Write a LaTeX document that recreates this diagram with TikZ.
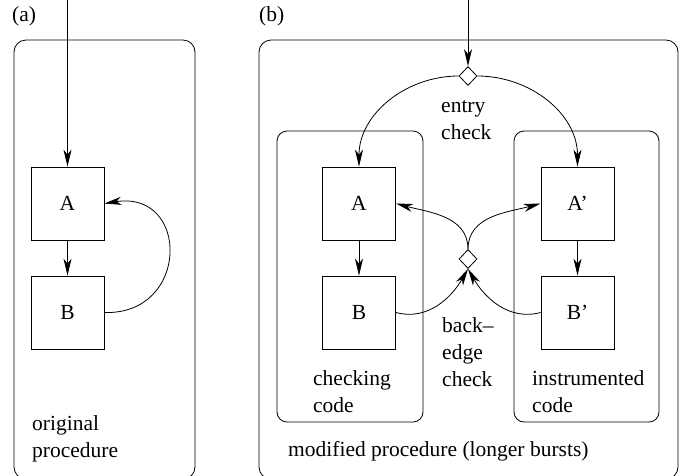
\documentclass[tikz,border=0pt]{standalone}
\usepackage{fontspec}
\setmainfont{Liberation Serif}
\usetikzlibrary{arrows.meta,shapes.geometric}
\begin{document}
\begin{tikzpicture}[x=1pt,y=-1pt,
  every node/.style={font=\fontsize{21.5}{27}\selectfont},
  blk/.style={draw,line width=0.8pt,minimum width=73pt,minimum height=73pt,inner sep=0pt},
  chk/.style={draw,line width=0.8pt,fill=white,diamond,minimum width=18pt,minimum height=19pt,inner sep=0pt},
  frame/.style={draw,line width=0.8pt,rounded corners=12pt},
  sub/.style={draw,line width=0.8pt,rounded corners=10pt},
  lbl/.style={anchor=base west,inner sep=0pt,align=left},
  edge/.style={line width=0.8pt,-{Stealth[length=17pt,width=8pt,inset=5pt]}}]
\useasboundingbox (0,0) rectangle (688,475);
\clip (0,0) rectangle (688,475);
% panel (a)
\node[lbl] (la) at (12,21) {(a)};
\draw[frame] (14,40) rectangle (195,479);
\node[blk] (A) at (67.5,203.5) {A};
\node[blk] (B) at (67.5,312.5) {B};
\coordinate (ina) at (67.5,0);
\draw[edge] (ina) -- (A.north);
\draw[edge] (A) -- (B);
\draw[edge] (B.east) .. controls (190,315) and (190,190) .. (A.east);
\node[lbl] (orig) at (32,457) {original\\procedure};
% panel (b)
\node[lbl] (lb) at (259,21) {(b)};
\draw[frame] (259,40) rectangle (678,479);
\draw[sub] (277,131) rectangle (423,422);
\draw[sub] (514,131) rectangle (659,422);
\node[blk] (A2) at (359,203.5) {A};
\node[blk] (B2) at (359,312.5) {B};
\node[blk] (A3) at (577.5,203.5) {A'};
\node[blk] (B3) at (577.5,312.5) {B'};
\node[chk] (ec) at (468,76) {};
\node[chk] (bc) at (468,259) {};
\coordinate (inb) at (468,0);
\draw[edge] (inb) -- (ec.north);
\draw[edge] (ec.west) to[out=180,in=90] (A2.north);
\draw[edge] (ec.east) to[out=0,in=90] (A3.north);
\draw[edge] (A2) -- (B2);
\draw[edge] (A3) -- (B3);
\draw[edge] (bc.north) to[out=90,in=-15] (A2.east);
\draw[edge] (bc.north) to[out=90,in=195] (A3.west);
\draw[edge] (B2.east) to[out=-15,in=-120] (bc.south);
\draw[edge] (B3.west) to[out=195,in=-60] (bc.south);
\node[lbl] (ect) at (441,139) {entry\\check};
\node[lbl] (bct) at (442,386) {back--\\edge\\check};
\node[lbl] (cc) at (313,412) {checking\\code};
\node[lbl] (ic) at (532,412) {instrumented\\code};
\node[lbl] (mp) at (288,456) {modified procedure (longer bursts)};
\end{tikzpicture}
\end{document}
